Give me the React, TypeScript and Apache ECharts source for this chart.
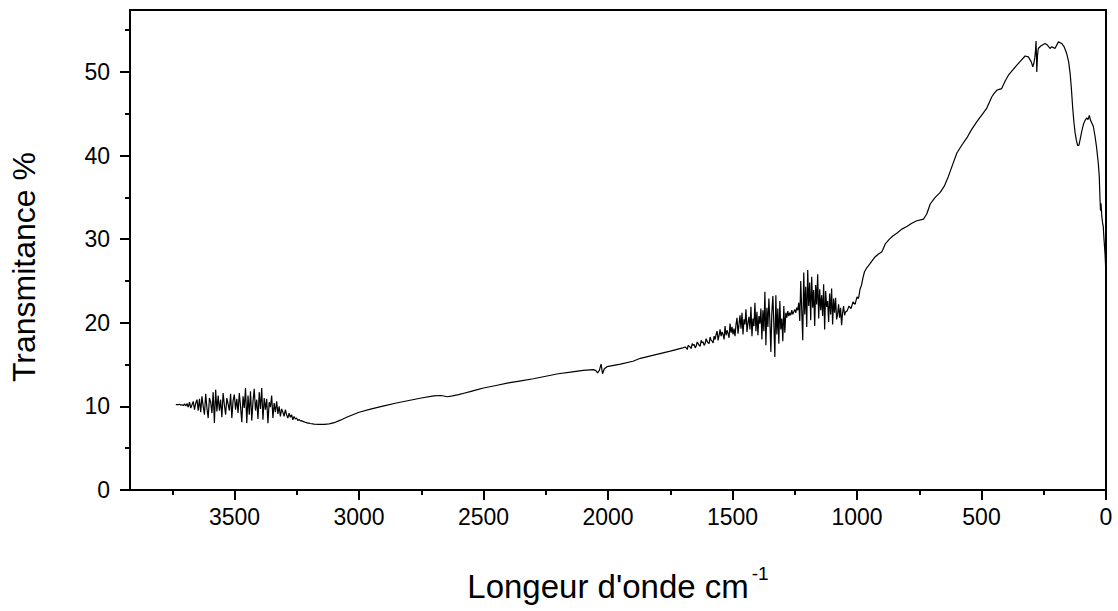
import React, { useEffect, useRef } from 'react';
import * as echarts from 'echarts';

// ---- Data (wavenumber cm-1, transmittance %) ----
// Noisy O-H region, regularly sampled
const ohStart = 3736;
const ohStep = 5;
const ohValues = [
  10.2, 10.2, 10.2, 10.25, 10.15, 10.2, 10.1, 10.3, 10.05, 10.35,
  9.9, 10.5, 9.8, 10.2, 10.6, 9.6, 10.4, 10.8, 9.5, 10.9,
  9.3, 11.2, 10.0, 9.0, 11.5, 9.8, 8.6, 11.0, 10.5, 9.2,
  11.7, 8.0, 12.0, 9.4, 11.3, 9.5, 10.8, 8.7, 11.6, 10.2,
  9.0, 11.0, 10.3, 9.5, 11.5, 8.6, 10.7, 11.4, 9.6, 10.9,
  9.2, 11.6, 10.0, 8.1, 11.2, 9.8, 12.2, 8.0, 11.3, 9.0,
  11.8, 8.3, 10.6, 12.1, 9.5, 10.8, 8.5, 11.7, 9.7, 12.2,
  8.4, 11.0, 9.6, 10.9, 8.0, 10.5, 9.9, 11.3, 8.6, 10.4,
  9.3, 10.6, 9.1, 10.0, 8.8, 9.7, 9.3, 8.8, 9.6, 9.0,
  8.6, 9.2, 8.7, 9.0, 8.4, 8.8, 8.5, 8.6, 8.3, 8.45,
  8.25, 8.3, 8.2, 8.15, 8.1, 8.05, 8.0, 8.0, 7.95, 7.92, 7.9, 7.88,
];

// Smooth part 3160 -> 1700
const midPoints: [number, number][] = [
  [3160, 7.85], [3140, 7.85], [3120, 7.9], [3100, 8.05], [3075, 8.35],
  [3050, 8.7], [3025, 9.0], [3000, 9.3], [2950, 9.7], [2900, 10.05],
  [2850, 10.4], [2800, 10.7], [2750, 11.0], [2700, 11.25], [2670, 11.3],
  [2645, 11.15], [2625, 11.25], [2600, 11.4], [2575, 11.6], [2550, 11.8],
  [2525, 12.0], [2500, 12.2], [2450, 12.5], [2400, 12.8], [2350, 13.05],
  [2300, 13.3], [2250, 13.6], [2200, 13.9], [2150, 14.1], [2100, 14.3],
  [2060, 14.4], [2050, 14.3], [2042, 14.0], [2035, 14.3], [2028, 15.05],
  [2022, 13.9], [2015, 14.5], [2004, 14.75], [1950, 15.05], [1900, 15.4],
  [1870, 15.75], [1800, 16.25], [1750, 16.6], [1700, 17.0],
];

// Noisy fingerprint region, regularly sampled
const fpStart = 1690;
const fpStep = 4;
const fpValues = [
  17.1, 17.0, 16.8, 17.3, 17.2, 17.1, 16.9, 17.5, 17.3, 17.4,
  17.0, 17.2, 17.7, 17.5, 17.3, 17.2, 17.9, 17.6, 17.7, 17.3,
  17.5, 18.1, 17.8, 17.6, 17.5, 18.3, 17.9, 17.8, 17.6, 18.4,
  18.0, 18.6, 19.0, 17.9, 18.5, 19.2, 18.4, 18.9, 18.6, 18.0,
  19.6, 18.5, 19.1, 18.7, 18.2, 19.9, 18.8, 19.5, 18.6, 19.3,
  18.4, 19.8,
  20.6, 18.7, 19.8, 20.9, 19.3, 21.2, 18.6, 20.4, 19.8, 21.6,
  18.9, 20.0, 20.7, 19.2, 21.9, 18.4, 20.5, 19.6, 22.4, 19.0,
  21.3, 18.5, 20.8, 19.9, 21.7,
  18.0, 21.5, 19.0, 23.7, 17.3, 21.8, 19.5, 22.9, 20.2, 16.5,
  21.3, 23.2, 19.8, 15.9, 23.3, 18.6, 21.7, 17.5, 22.6, 19.2,
  20.5, 17.8, 22.0, 18.8, 21.2,
  20.6, 21.4, 20.8, 21.2, 20.9, 21.5, 21.0, 21.3, 21.6, 21.2, 21.8, 21.5,
  22.4, 20.2, 25.0, 21.4, 17.9, 26.0, 21.0, 24.3, 19.5, 26.3,
  22.0, 24.8, 20.3, 25.5, 21.8, 23.9, 19.6, 24.5, 22.2, 25.8,
  20.5, 24.0, 21.5, 23.3, 20.8, 24.6, 19.2, 23.8, 21.9, 22.6,
  20.1, 23.5, 21.0, 24.1, 19.8, 22.9, 21.2, 23.0, 20.4,
  21.0, 22.2, 20.6, 21.8, 19.7, 21.2, 22.0, 20.9, 21.3,
];

// Low wavenumber part 1040 -> 1
const lowPoints: [number, number][] = [
  [1040, 21.4], [1032, 22.0], [1024, 21.7], [1016, 22.5], [1008, 22.2],
  [1000, 23.1], [994, 22.9], [988, 24.0], [982, 24.5], [976, 25.4],
  [970, 26.1], [960, 26.6], [947, 27.1], [930, 27.8], [915, 28.2],
  [900, 28.5], [887, 29.4], [870, 30.0], [855, 30.4], [840, 30.7],
  [820, 31.2], [800, 31.5], [780, 31.9], [760, 32.2], [745, 32.3],
  [733, 32.4], [720, 33.0], [706, 34.2], [686, 35.0], [666, 35.6],
  [650, 36.3], [633, 37.5], [615, 39.0], [599, 40.3], [580, 41.2],
  [559, 42.1], [540, 43.1], [520, 44.0], [500, 44.8], [480, 45.6],
  [459, 47.0], [450, 47.4], [439, 47.8], [429, 47.9], [419, 48.0],
  [405, 48.9], [392, 49.6], [375, 50.2], [358, 50.8], [340, 51.4],
  [325, 51.9], [312, 51.8], [300, 51.2], [294, 50.6], [290, 51.0],
  [286, 51.7], [283, 52.6], [281, 53.7], [279, 51.5], [278, 50.0],
  [275, 52.0], [272, 52.8], [262, 53.1], [245, 53.4], [235, 53.2],
  [225, 52.8], [218, 53.0], [211, 52.9], [205, 52.8], [198, 53.2],
  [191, 53.6], [185, 53.5], [178, 53.4], [168, 53.0], [158, 52.2],
  [150, 51.2], [144, 49.8], [139, 48.0], [134, 45.8], [129, 44.0],
  [124, 42.7], [119, 41.8], [114, 41.2], [109, 41.2], [104, 41.9],
  [98, 42.8], [91, 43.7], [84, 44.2], [77, 44.5], [72, 44.3],
  [67, 44.8], [62, 44.2], [57, 43.9], [51, 43.5], [44, 42.3],
  [38, 41.0], [31, 39.1], [27, 37.5], [24, 34.7], [22, 33.4],
  [20, 34.3], [17, 32.8], [14, 32.0], [11, 31.5], [8, 30.0],
  [4, 28.3], [1, 26.3],
];

// Axis ticks
const xMajorTicks = [0, 500, 1000, 1500, 2000, 2500, 3000, 3500];
const xMinorTicks = [250, 750, 1250, 1750, 2250, 2750, 3250, 3750];
const yMajorTicks = [0, 10, 20, 30, 40, 50];
const yMinorTicks = [5, 15, 25, 35, 45, 55];

const X_MAX = 3920;
const Y_MAX = 57.4;
const FONT = "'Liberation Sans', Arial, sans-serif";

function buildSeries(): [number, number][] {
  const pts: [number, number][] = [];
  ohValues.forEach((v, i) => pts.push([ohStart - i * ohStep, v]));
  midPoints.forEach((p) => pts.push(p));
  fpValues.forEach((v, i) => pts.push([fpStart - i * fpStep, v]));
  lowPoints.forEach((p) => pts.push(p));
  return pts;
}

export default function App() {
  const ref = useRef<HTMLDivElement>(null);
  useEffect(() => {
    const chart = echarts.init(ref.current!, null, { renderer: 'svg' });
    const black = '#000';
    const option: any = {
      animation: false,
      backgroundColor: '#fff',
      grid: {
        left: 130, right: 12, top: 10, bottom: 121,
        show: true, borderColor: black, borderWidth: 2,
      },
      xAxis: [
        {
          type: 'value', inverse: true, min: 0, max: X_MAX, position: 'bottom',
          name: "{a|Longeur d'onde cm}{b|-1}",
          nameLocation: 'middle', nameGap: 74,
          nameTextStyle: {
            color: black,
            rich: {
              a: { fontFamily: FONT, fontSize: 33, color: black, lineHeight: 44 },
              b: { fontFamily: FONT, fontSize: 19, color: black, verticalAlign: 'top', lineHeight: 19, padding: [0, 0, 0, 3] },
            },
          },
          axisLine: { show: true, onZero: false, lineStyle: { color: black, width: 2 } },
          axisTick: { show: true, length: 10, lineStyle: { color: black, width: 2 }, customValues: xMajorTicks },
          axisLabel: {
            show: true, customValues: xMajorTicks, fontFamily: FONT, fontSize: 23, color: black, margin: 15,
            formatter: (v: number) => String(v),
          },
          splitLine: { show: false },
        },
        {
          type: 'value', inverse: true, min: 0, max: X_MAX, position: 'bottom',
          axisLine: { show: false, onZero: false },
          axisTick: { show: true, length: 5, lineStyle: { color: black, width: 2 }, customValues: xMinorTicks },
          axisLabel: { show: false },
          splitLine: { show: false },
        },
      ],
      yAxis: [
        {
          type: 'value', min: 0, max: Y_MAX, position: 'left',
          name: 'Transmitance %', nameLocation: 'middle', nameGap: 90,
          nameTextStyle: { fontFamily: FONT, fontSize: 32, color: black, padding: [0, 34, 0, 0] },
          axisLine: { show: true, onZero: false, lineStyle: { color: black, width: 2 } },
          axisTick: { show: true, length: 10, lineStyle: { color: black, width: 2 }, customValues: yMajorTicks },
          axisLabel: {
            show: true, customValues: yMajorTicks, fontFamily: FONT, fontSize: 23, color: black, margin: 20,
            formatter: (v: number) => String(v),
          },
          splitLine: { show: false },
        },
        {
          type: 'value', min: 0, max: Y_MAX, position: 'left',
          axisLine: { show: false, onZero: false },
          axisTick: { show: true, length: 5, lineStyle: { color: black, width: 2 }, customValues: yMinorTicks },
          axisLabel: { show: false },
          splitLine: { show: false },
        },
      ],
      series: [
        {
          type: 'line', xAxisIndex: 0, yAxisIndex: 0,
          data: buildSeries(),
          showSymbol: false, symbol: 'none',
          lineStyle: { color: black, width: 1.2 },
          silent: true,
        },
      ],
    };
    chart.setOption(option);
    return () => chart.dispose();
  }, []);
  return (
    <div
      ref={ref}
      style={{ position: 'fixed', left: 0, top: 0, width: 1118, height: 611, background: '#fff' }}
    />
  );
}
